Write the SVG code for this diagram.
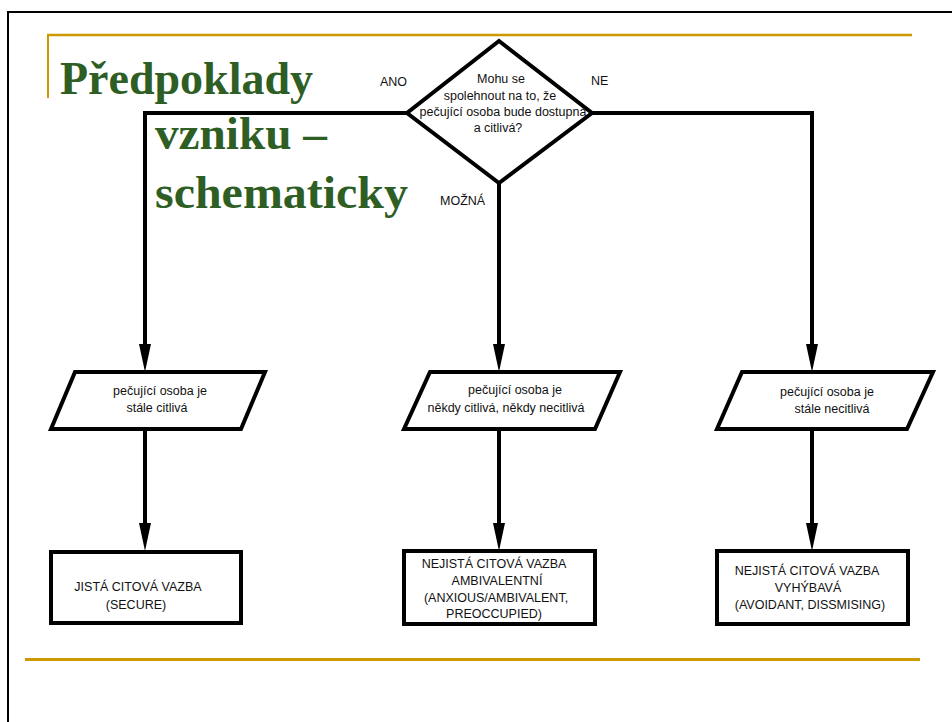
<svg xmlns="http://www.w3.org/2000/svg" width="952" height="722" viewBox="0 0 952 722">
<style>
.t{font-family:"Liberation Sans",Arial,sans-serif;font-size:12.5px;fill:#111;text-anchor:middle}
.l{font-family:"Liberation Sans",Arial,sans-serif;font-size:12.5px;fill:#111}
.title{font-family:"Liberation Serif","Times New Roman",serif;font-weight:bold;font-size:46px;fill:#2E5E24}
.shape{fill:#fff;stroke:#000;stroke-width:4;stroke-linejoin:miter}
.con{fill:none;stroke:#000;stroke-width:4}
.gold{stroke:#CC9900;fill:none}
</style>
<defs>
<marker id="arr" markerUnits="userSpaceOnUse" markerWidth="14" markerHeight="30" refX="6" refY="28" orient="auto-start-reverse" viewBox="0 0 12 28">
<path d="M0,0 L12,0 L6,28 Z" fill="#000"/>
</marker>
</defs>
<rect x="0" y="0" width="952" height="722" fill="#fff"/>
<rect x="8" y="12" width="1000" height="1000" fill="none" stroke="#000" stroke-width="2"/>
<g id="decor">
<line class="gold" x1="47" y1="35" x2="912" y2="35" stroke-width="2.5"/>
<line class="gold" x1="48" y1="34" x2="48" y2="98" stroke-width="2"/>
<line class="gold" x1="25" y1="659.5" x2="920" y2="659.5" stroke-width="3"/>
</g>
<g id="title">
<text class="title" x="60" y="94" textLength="253" lengthAdjust="spacingAndGlyphs">Předpoklady</text>
<text class="title" x="155" y="149" textLength="172" lengthAdjust="spacingAndGlyphs">vzniku –</text>
<text class="title" x="155" y="208" textLength="253" lengthAdjust="spacingAndGlyphs">schematicky</text>
</g>
<g id="connectors">
<polyline class="con" points="407,113 145,113 145,344"/>
<polyline class="con" points="592,113 812,113 812,344"/>
<line class="con" x1="499" y1="183" x2="499" y2="344"/>
<line class="con" x1="145" y1="429" x2="145" y2="523"/>
<line class="con" x1="499" y1="429" x2="499" y2="523"/>
<line class="con" x1="812" y1="429" x2="812" y2="523"/>
<path d="M139,344 L151,344 L145,372 Z"/>
<path d="M493,344 L505,344 L499,372 Z"/>
<path d="M806,344 L818,344 L812,372 Z"/>
<path d="M139,523 L151,523 L145,551 Z"/>
<path d="M493,523 L505,523 L499,551 Z"/>
<path d="M806,523 L818,523 L812,551 Z"/>
<text class="l" x="380" y="86">ANO</text>
<text class="l" x="591" y="85">NE</text>
<text class="l" x="440" y="205">MOŽNÁ</text>
</g>
<g id="decision">
<polygon class="shape" points="499,41 592,113 499,183 407,113"/>
<text class="t" x="501" y="83">Mohu se</text>
<text class="t" x="500" y="100">spolehnout na to, že</text>
<text class="t" x="503" y="116">pečující osoba bude dostupná</text>
<text class="t" x="498" y="132">a citlivá?</text>
</g>
<g id="p-left">
<polygon class="shape" points="75,372 265,372 241,429 51,429"/>
<text class="t" x="160" y="395">pečující osoba je</text>
<text class="t" x="157" y="412">stále citlivá</text>
</g>
<g id="p-mid">
<polygon class="shape" points="430,372 620,372 595,429 404,429"/>
<text class="t" x="515" y="394">pečující osoba je</text>
<text class="t" x="506" y="412">někdy citlivá, někdy necitlivá</text>
</g>
<g id="p-right">
<polygon class="shape" points="742,372 933,372 907,429 717,429"/>
<text class="t" x="827" y="396">pečující osoba je</text>
<text class="t" x="832" y="413">stále necitlivá</text>
</g>
<g id="b-left">
<rect class="shape" x="51" y="552" width="190" height="71"/>
<text class="t" x="138" y="591">JISTÁ CITOVÁ VAZBA</text>
<text class="t" x="136" y="609">(SECURE)</text>
</g>
<g id="b-mid">
<rect class="shape" x="404" y="551" width="191" height="73"/>
<text class="t" x="494" y="568">NEJISTÁ CITOVÁ VAZBA</text>
<text class="t" x="497" y="585">AMBIVALENTNÍ</text>
<text class="t" x="496" y="602">(ANXIOUS/AMBIVALENT,</text>
<text class="t" x="494" y="618">PREOCCUPIED)</text>
</g>
<g id="b-right">
<rect class="shape" x="717" y="551" width="191" height="73"/>
<text class="t" x="807" y="575">NEJISTÁ CITOVÁ VAZBA</text>
<text class="t" x="808" y="592">VYHÝBAVÁ</text>
<text class="t" x="810" y="609">(AVOIDANT, DISSMISING)</text>
</g>
</svg>
